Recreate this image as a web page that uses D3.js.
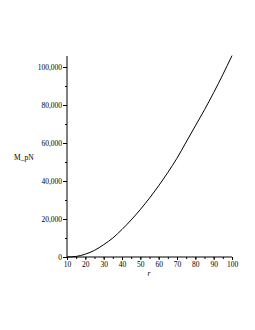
<!DOCTYPE html>
<html>
<head>
<meta charset="utf-8">
<script src="https://cdn.jsdelivr.net/npm/d3@7"></script>
<style>
  body { margin: 0; background: #fff; }
  svg text { font-family: "Liberation Serif", "DejaVu Serif", serif; }
</style>
</head>
<body>
<svg id="chart" width="255" height="330"></svg>
<script>
// values
let rValues = [10, 15, 20, 25, 30, 35, 40, 45, 50, 55, 60, 65, 70, 75, 80, 85, 90, 95, 100];
let mValues = [0, 300, 1500, 3500, 6500, 10000, 14500, 19500, 25000, 31000, 37500,
               44500, 52000, 60500, 69000, 77500, 86500, 96000, 106000];

let xTicks = [10, 20, 30, 40, 50, 60, 70, 80, 90, 100];
let yTicks = [0, 20000, 40000, 60000, 80000, 100000];

let svg = d3.select('#chart');

let x = d3.scaleLinear().domain([10, 100]).range([67, 232]);
let y = d3.scaleLinear().domain([0, 100000]).range([257, 67]);

// x axis
let xAxis = svg.append('g')
    .attr('transform', 'translate(0,257)');
xAxis.call(d3.axisBottom(x).tickValues(d3.range(10, 101, 5)).tickSize(2).tickFormat(''));
xAxis.call(g => g.select('.domain').remove());
let xMajor = svg.append('g')
    .attr('transform', 'translate(0,257)')
    .call(d3.axisBottom(x).tickValues(xTicks).tickSize(3).tickPadding(2).tickFormat(d3.format('d')));
xMajor.select('.domain').attr('d', 'M67,0H232');

// y axis
let yMinor = svg.append('g')
    .attr('transform', 'translate(67,0)')
    .call(d3.axisLeft(y).tickValues(d3.range(0, 100001, 10000)).tickSize(2).tickFormat(''));
yMinor.select('.domain').remove();
let yMajor = svg.append('g')
    .attr('transform', 'translate(67,0)')
    .call(d3.axisLeft(y).tickValues(yTicks).tickSize(4).tickPadding(1).tickFormat(d3.format(',')));
yMajor.select('.domain').attr('d', 'M0,257V56');

svg.selectAll('.tick text').attr('font-size', 7.5).attr('fill', '#000')
    .attr('font-family', '"Liberation Serif", serif');
svg.selectAll('.tick line, .domain').attr('stroke', '#000').attr('stroke-width', 1);

// curve
let line = d3.line()
    .x((d, i) => x(rValues[i]))
    .y(d => y(d))
    .curve(d3.curveMonotoneX);

svg.append('path')
    .datum(mValues)
    .attr('d', line)
    .attr('fill', 'none')
    .attr('stroke', '#000')
    .attr('stroke-width', 1);

// labels
svg.append('text')
    .attr('x', 14).attr('y', 160)
    .attr('font-size', 7.5)
    .text('M_pN');

svg.append('text')
    .attr('x', 149).attr('y', 276)
    .attr('text-anchor', 'middle')
    .attr('font-size', 7.5)
    .attr('font-style', 'italic')
    .text('r');
</script>
</body>
</html>
